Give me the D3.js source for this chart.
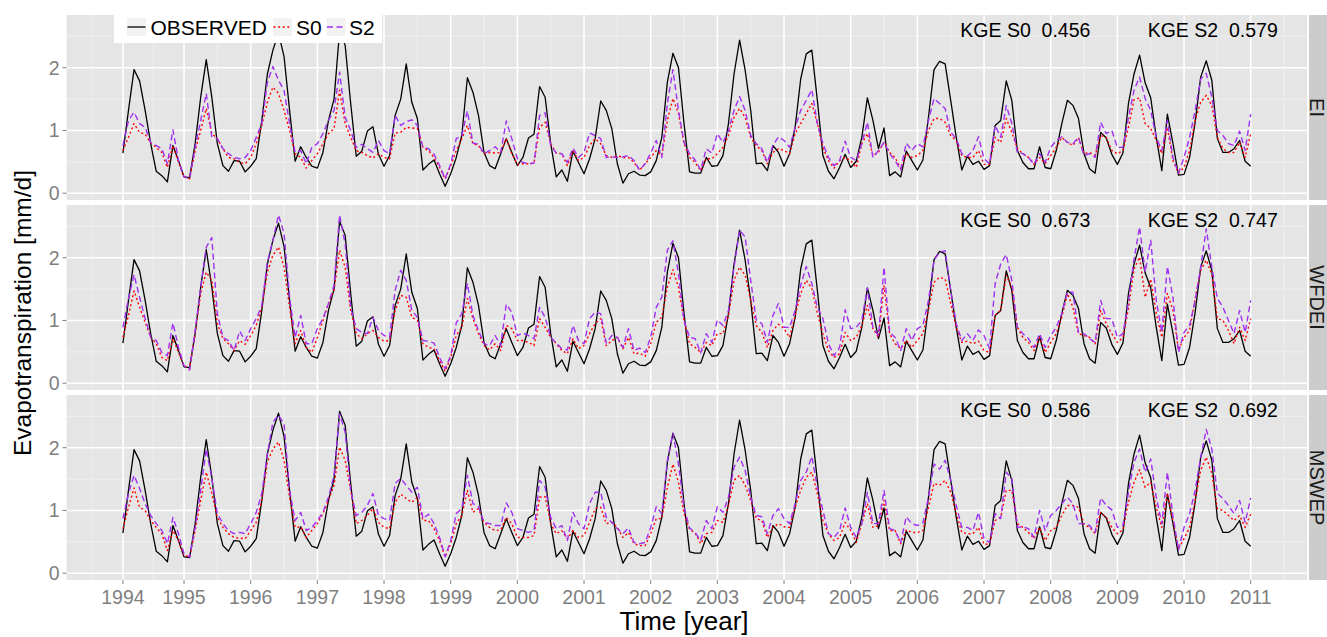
<!DOCTYPE html>
<html>
<head>
<meta charset="utf-8">
<script src="https://cdn.jsdelivr.net/npm/d3@7"></script>
<style>
  body { margin: 0; background: #fff; }
  text { font-family: "Liberation Sans", Arial, sans-serif; }
</style>
</head>
<body>
<svg id="chart" width="1327" height="637"></svg>
<script>
// ---- Data: monthly ET [mm/d], Jan 1994 .. Dec 2010 ----
const observed = [
  0.64,1.32,1.97,1.79,1.32,0.79,0.35,0.28,0.18,0.76,0.52,0.26,
  0.25,0.79,1.53,2.13,1.53,0.79,0.44,0.35,0.52,0.51,0.34,0.43,
  0.55,1.16,1.90,2.28,2.55,2.18,1.32,0.51,0.74,0.57,0.43,0.40,
  0.65,1.16,1.50,2.58,2.36,1.43,0.59,0.67,0.99,1.06,0.62,0.43,
  0.60,1.24,1.50,2.06,1.45,1.19,0.37,0.46,0.53,0.31,0.11,0.31,
  0.57,0.92,1.84,1.61,1.24,0.65,0.44,0.39,0.63,0.87,0.65,0.44,
  0.57,0.88,0.94,1.70,1.53,0.79,0.26,0.37,0.19,0.67,0.49,0.31,
  0.55,0.87,1.47,1.32,1.03,0.47,0.16,0.31,0.35,0.29,0.28,0.34,
  0.52,0.89,1.77,2.23,2.00,1.11,0.34,0.32,0.32,0.57,0.43,0.44,
  0.60,1.11,1.90,2.44,1.96,1.32,0.47,0.48,0.36,0.76,0.65,0.43,
  0.63,1.05,1.82,2.22,2.28,1.48,0.60,0.35,0.23,0.41,0.62,0.41,
  0.51,0.89,1.52,1.16,0.71,1.04,0.28,0.34,0.26,0.67,0.52,0.37,
  0.53,1.21,1.97,2.10,2.06,1.48,0.89,0.37,0.59,0.46,0.51,0.38,
  0.44,1.08,1.16,1.79,1.48,0.68,0.49,0.39,0.39,0.74,0.41,0.39,
  0.68,1.11,1.48,1.40,1.19,0.63,0.39,0.32,0.97,0.88,0.62,0.46,
  0.64,1.43,1.90,2.20,1.76,1.52,0.89,0.36,1.26,0.80,0.29,0.30,
  0.57,1.13,1.85,2.11,1.80,0.87,0.65,0.65,0.71,0.84,0.51,0.43
];

const eiS0 = [
  0.68,0.89,1.11,0.97,0.94,0.80,0.73,0.65,0.41,0.76,0.49,0.26,
  0.23,0.68,1.00,1.35,0.95,0.87,0.71,0.57,0.55,0.49,0.47,0.57,
  0.79,1.08,1.45,1.69,1.59,1.32,1.00,0.63,0.57,0.40,0.52,0.63,
  0.79,0.95,1.03,1.64,1.11,0.89,0.68,0.65,0.60,0.56,0.63,0.57,
  0.55,0.96,0.97,1.05,1.04,1.03,0.73,0.68,0.57,0.41,0.23,0.44,
  0.68,0.87,1.08,0.79,0.76,0.63,0.65,0.64,0.65,0.87,0.63,0.46,
  0.47,0.47,0.48,1.05,1.13,0.79,0.64,0.63,0.44,0.68,0.52,0.57,
  0.76,0.87,0.79,0.60,0.57,0.60,0.57,0.57,0.49,0.37,0.47,0.57,
  0.68,0.60,1.16,1.51,1.27,0.79,0.57,0.49,0.36,0.55,0.55,0.63,
  0.73,0.92,1.21,1.35,1.21,0.89,0.76,0.68,0.47,0.65,0.71,0.68,
  0.63,0.95,1.11,1.27,1.43,1.11,0.73,0.52,0.40,0.52,0.57,0.52,
  0.41,0.79,0.95,0.60,0.65,0.81,0.65,0.57,0.39,0.63,0.57,0.60,
  0.68,1.00,1.19,1.19,1.13,0.92,0.84,0.60,0.57,0.57,0.68,0.46,
  0.46,0.89,0.81,1.19,0.97,0.71,0.63,0.57,0.46,0.57,0.47,0.60,
  0.73,0.89,0.81,0.76,0.89,0.63,0.65,0.60,0.92,0.89,0.68,0.63,
  0.68,1.05,1.49,1.52,1.11,1.03,0.84,0.63,1.05,0.52,0.32,0.41,
  0.68,1.16,1.45,1.56,1.40,0.89,0.71,0.65,0.65,0.81,0.57,0.95
];

const eiS2 = [
  0.76,1.16,1.29,1.11,1.05,0.81,0.76,0.71,0.47,1.01,0.52,0.26,
  0.23,0.73,1.16,1.59,0.90,0.87,0.71,0.63,0.57,0.55,0.57,0.68,
  0.89,1.11,1.77,2.02,1.80,1.64,1.11,0.65,0.68,0.47,0.73,0.79,
  0.95,1.16,1.32,1.93,1.21,1.00,0.73,0.78,0.71,0.65,0.84,0.68,
  0.63,1.24,1.08,1.14,1.17,1.08,0.73,0.71,0.62,0.44,0.23,0.46,
  0.87,0.92,1.31,0.80,0.78,0.63,0.68,0.74,0.65,1.15,0.87,0.55,
  0.49,0.47,0.48,1.24,1.28,0.76,0.64,0.63,0.49,0.72,0.57,0.65,
  0.96,0.92,0.87,0.57,0.58,0.57,0.58,0.60,0.52,0.37,0.47,0.64,
  0.84,0.57,1.43,1.97,1.32,0.81,0.63,0.53,0.37,0.71,0.64,0.95,
  0.81,1.00,1.32,1.54,1.32,0.92,0.79,0.71,0.49,0.76,0.90,0.84,
  0.73,1.05,1.32,1.48,1.65,1.11,0.79,0.57,0.44,0.52,0.83,0.57,
  0.52,0.79,1.13,0.57,0.68,0.81,0.63,0.52,0.37,0.80,0.68,0.79,
  0.74,1.16,1.51,1.43,1.35,0.97,0.87,0.63,0.59,0.68,0.90,0.55,
  0.47,1.08,0.89,1.40,1.11,0.65,0.63,0.57,0.46,0.63,0.49,0.73,
  0.84,0.90,0.81,0.79,0.89,0.60,0.63,0.57,1.13,0.95,1.00,0.73,
  0.73,1.21,1.64,1.85,1.51,1.32,0.89,0.68,1.16,0.57,0.32,0.57,
  0.89,1.32,1.82,1.91,1.53,1.00,0.92,0.79,0.76,0.99,0.68,1.26
];

const wfdeiS0 = [
  0.73,1.08,1.47,1.21,0.97,0.73,0.63,0.41,0.36,0.71,0.49,0.28,
  0.23,0.79,1.43,1.77,1.64,0.95,0.71,0.63,0.52,0.68,0.62,0.76,
  0.92,1.21,1.77,2.04,2.17,1.85,1.21,0.63,0.84,0.57,0.49,0.73,
  1.00,1.27,1.48,2.12,1.85,1.16,0.79,0.71,0.79,0.84,0.73,0.67,
  0.68,1.16,1.40,1.37,1.05,1.00,0.63,0.57,0.55,0.36,0.19,0.41,
  0.76,0.89,1.35,1.03,0.79,0.60,0.53,0.63,0.52,0.92,0.87,0.68,
  0.68,0.65,0.60,1.03,0.89,0.73,0.63,0.52,0.47,0.71,0.55,0.60,
  0.79,0.95,1.03,0.60,0.68,0.73,0.55,0.73,0.47,0.48,0.43,0.63,
  0.97,1.05,1.53,1.81,1.53,1.00,0.63,0.57,0.49,0.65,0.60,0.79,
  0.79,1.08,1.64,1.85,1.72,1.32,0.92,0.81,0.57,0.84,0.94,0.87,
  0.73,1.08,1.43,1.64,1.51,1.11,0.79,0.52,0.41,0.47,0.81,0.68,
  0.73,0.92,1.24,0.87,0.73,1.56,0.79,0.63,0.55,0.68,0.57,0.68,
  0.79,1.16,1.61,1.69,1.66,1.27,0.89,0.65,0.67,0.63,0.67,0.52,
  0.49,1.08,1.16,1.72,1.53,0.89,0.73,0.65,0.52,0.73,0.49,0.65,
  0.79,1.05,1.43,1.21,0.79,0.76,0.73,0.63,1.16,0.95,0.79,0.65,
  0.73,1.19,1.82,2.01,1.37,1.66,1.11,0.73,1.43,1.16,0.53,0.73,
  0.84,1.35,1.80,1.96,1.74,1.03,1.00,0.84,0.63,0.89,0.68,1.03
];

const wfdeiS2 = [
  0.89,1.35,1.73,1.37,1.03,0.73,0.68,0.49,0.44,0.96,0.57,0.28,
  0.21,0.84,1.53,2.17,2.32,1.11,0.73,0.68,0.52,0.83,0.68,0.87,
  1.03,1.24,1.93,2.28,2.68,2.39,1.37,0.73,1.08,0.63,0.63,0.87,
  1.03,1.27,1.56,2.68,2.22,1.21,0.87,0.81,0.79,1.05,0.84,0.76,
  0.73,1.48,1.80,1.64,1.16,1.05,0.68,0.67,0.64,0.41,0.23,0.44,
  0.96,1.11,1.59,1.08,0.84,0.63,0.60,0.76,0.60,1.26,1.13,0.76,
  0.80,0.76,0.71,1.21,1.05,0.73,0.64,0.55,0.53,0.92,0.68,0.63,
  1.03,1.13,1.11,0.64,0.76,0.73,0.57,0.87,0.52,0.56,0.49,0.73,
  1.21,1.37,2.12,2.27,1.74,1.00,0.73,0.71,0.48,0.79,0.65,1.01,
  0.92,1.16,1.85,2.44,2.33,1.64,1.01,0.95,0.65,1.08,1.27,0.89,
  0.89,1.16,1.56,1.86,1.59,1.21,1.03,0.63,0.44,0.57,1.17,0.87,
  0.89,1.00,1.52,0.89,0.76,1.85,0.81,0.73,0.52,0.87,0.68,0.87,
  0.92,1.32,1.96,2.09,2.11,1.48,0.95,0.68,0.79,0.68,0.85,0.76,
  0.55,1.59,1.90,2.05,1.64,0.89,0.79,0.71,0.57,0.79,0.57,0.76,
  0.89,1.11,1.45,1.45,0.81,0.79,0.71,0.65,1.32,1.03,1.03,0.73,
  0.79,1.29,1.98,2.49,1.77,2.28,1.32,0.81,1.86,1.37,0.49,0.81,
  0.92,1.32,1.85,2.46,1.85,1.35,1.21,1.00,0.79,1.16,0.81,1.32
];

const mswepS0 = [
  0.71,1.05,1.36,1.05,1.00,0.84,0.73,0.63,0.36,0.68,0.52,0.28,
  0.26,0.68,1.16,1.61,1.27,0.89,0.73,0.63,0.57,0.56,0.55,0.68,
  0.81,1.16,1.77,1.98,2.09,1.80,1.21,0.73,0.74,0.57,0.68,0.79,
  0.95,1.16,1.40,2.01,1.80,1.32,0.79,0.84,0.92,1.03,0.81,0.73,
  0.71,1.13,1.26,1.19,1.13,1.21,0.84,0.84,0.71,0.52,0.26,0.47,
  0.79,0.92,1.32,0.97,1.03,0.81,0.73,0.68,0.69,0.89,0.79,0.57,
  0.57,0.57,0.60,1.21,1.22,0.79,0.63,0.68,0.55,0.68,0.57,0.60,
  0.81,1.03,1.05,0.79,0.81,0.73,0.57,0.65,0.47,0.44,0.44,0.63,
  0.87,0.87,1.37,1.74,1.45,0.95,0.70,0.64,0.47,0.63,0.65,0.84,
  0.81,1.08,1.48,1.56,1.40,1.16,0.87,0.84,0.57,0.73,0.79,0.74,
  0.73,1.05,1.32,1.53,1.61,1.27,0.84,0.63,0.52,0.57,0.81,0.68,
  0.49,0.79,1.11,0.73,0.76,1.16,0.68,0.68,0.47,0.69,0.65,0.65,
  0.68,1.05,1.43,1.40,1.48,1.29,0.95,0.65,0.63,0.63,0.73,0.46,
  0.47,0.84,0.89,1.32,1.32,0.79,0.73,0.65,0.55,0.73,0.52,0.68,
  0.73,0.92,1.08,1.08,1.05,0.78,0.73,0.63,0.97,0.89,0.73,0.63,
  0.69,1.13,1.45,1.65,1.37,1.45,1.05,0.73,1.27,0.84,0.39,0.55,
  0.73,1.16,1.64,1.85,1.59,1.03,1.00,0.92,0.84,0.92,0.73,0.94
];

const mswepS2 = [
  0.87,1.27,1.56,1.35,1.11,0.92,0.79,0.68,0.47,0.89,0.63,0.31,
  0.26,0.73,1.32,1.98,1.51,0.95,0.79,0.68,0.63,0.65,0.63,0.79,
  0.97,1.27,1.90,2.41,2.52,2.38,1.32,0.84,0.97,0.68,0.73,0.84,
  0.97,1.21,1.56,2.54,2.25,1.32,0.92,0.97,1.08,1.27,0.92,0.87,
  0.84,1.43,1.51,1.40,1.29,1.37,0.87,0.94,0.79,0.57,0.26,0.52,
  0.95,1.03,1.56,1.11,1.06,0.81,0.79,0.76,0.76,1.12,0.97,0.71,
  0.68,0.65,0.68,1.48,1.37,0.89,0.71,0.76,0.52,0.97,0.79,0.71,
  1.11,1.29,1.29,0.89,0.81,0.71,0.63,0.72,0.49,0.47,0.49,0.73,
  1.06,0.95,1.80,2.23,1.74,1.05,0.72,0.65,0.52,0.84,0.71,1.06,
  0.97,1.21,1.69,1.85,1.64,1.21,0.92,0.90,0.63,0.92,1.03,0.87,
  0.79,1.11,1.48,1.61,1.86,1.37,1.00,0.63,0.57,0.68,1.04,0.73,
  0.57,0.79,1.29,0.79,0.79,1.32,0.71,0.68,0.49,0.90,0.79,0.76,
  0.80,1.21,1.74,1.66,1.80,1.48,1.08,0.73,0.73,0.68,0.97,0.55,
  0.49,0.95,0.87,1.61,1.51,0.73,0.74,0.71,0.57,1.00,0.68,0.92,
  1.00,1.11,1.21,1.11,0.79,0.79,0.76,0.65,1.20,1.08,1.01,0.73,
  0.76,1.29,1.77,1.98,1.61,1.82,1.21,0.79,1.61,0.92,0.37,0.73,
  0.95,1.32,1.85,2.29,1.98,1.27,1.19,1.08,0.95,1.16,0.81,1.20
];

const products = ["EI", "WFDEI", "MSWEP"];
const kgeS0 = ["0.456", "0.673", "0.586"];
const kgeS2 = ["0.579", "0.747", "0.692"];
const yearTicks = d3.range(1994, 2012);
const yTicks = [0, 1, 2];
const seriesNames = ["OBSERVED", "S0", "S2"];

// ---- Layout ----
const svg = d3.select('#chart');
const panelLeft = 66.5, panelRight = 1307.1;
const panelTops = [15, 205, 395];
const panelH = 185;
const stripX = 1309, stripW = 18;
const tickFont = 19.5;

// decimal time: month m of year y sits at y + m/12
const months = observed.map((_, i) => 1994 + (i + 1) / 12);
const x = d3.scaleLinear().domain([1993.237, 2011.846]).range([panelLeft, panelRight]);

const styles = {
  OBSERVED: { color: '#000000', dash: null, width: 1.3 },
  S0: { color: '#FF0000', dash: '2,2.6', width: 1.4 },
  S2: { color: '#A030F0', dash: '6,3.5', width: 1.4 }
};

const panelSeries = [
  { S0: eiS0, S2: eiS2 },
  { S0: wfdeiS0, S2: wfdeiS2 },
  { S0: mswepS0, S2: mswepS2 }
];

// first tick sits on the first data month, the rest on whole years
const xTickPos = yearTicks.map(y => (y === 1994 ? months[0] : y));
const xMinor = [];
for (let i = 0; i < xTickPos.length - 1; i++) xMinor.push((xTickPos[i] + xTickPos[i + 1]) / 2);
xMinor.unshift(xTickPos[0] - (xTickPos[1] - xTickPos[0]) / 2);
xMinor.push(2011.5);

products.forEach((name, p) => {
  const top = panelTops[p];
  const y = d3.scaleLinear().domain([-0.108, 2.84]).range([top + panelH, top]);
  const g = svg.append('g');

  g.append('rect')
    .attr('x', panelLeft).attr('y', top)
    .attr('width', panelRight - panelLeft).attr('height', panelH)
    .attr('fill', '#E5E5E5');

  // minor grid
  g.selectAll('.hmin').data([0.5, 1.5, 2.5]).enter().append('line')
    .attr('x1', panelLeft).attr('x2', panelRight)
    .attr('y1', d => y(d)).attr('y2', d => y(d))
    .attr('stroke', '#F2F2F2').attr('stroke-width', 0.8);
  g.selectAll('.vmin').data(xMinor.filter(d => x(d) > panelLeft && x(d) < panelRight)).enter().append('line')
    .attr('y1', top).attr('y2', top + panelH)
    .attr('x1', d => x(d)).attr('x2', d => x(d))
    .attr('stroke', '#F2F2F2').attr('stroke-width', 0.8);

  // major grid
  g.selectAll('.hmaj').data(yTicks).enter().append('line')
    .attr('x1', panelLeft).attr('x2', panelRight)
    .attr('y1', d => y(d)).attr('y2', d => y(d))
    .attr('stroke', '#FFFFFF').attr('stroke-width', 1.6);
  g.selectAll('.vmaj').data(xTickPos).enter().append('line')
    .attr('y1', top).attr('y2', top + panelH)
    .attr('x1', d => x(d)).attr('x2', d => x(d))
    .attr('stroke', '#FFFFFF').attr('stroke-width', 1.6);

  // clip
  const clipId = 'clip' + p;
  svg.append('clipPath').attr('id', clipId).append('rect')
    .attr('x', panelLeft).attr('y', top)
    .attr('width', panelRight - panelLeft).attr('height', panelH);

  const line = d3.line().x((d, i) => x(months[i])).y(d => y(d));
  const lines = g.append('g').attr('clip-path', `url(#${clipId})`);
  [['OBSERVED', observed], ['S0', panelSeries[p].S0], ['S2', panelSeries[p].S2]].forEach(([key, vals]) => {
    const st = styles[key];
    lines.append('path')
      .datum(vals)
      .attr('d', line)
      .attr('fill', 'none')
      .attr('stroke', st.color)
      .attr('stroke-width', st.width)
      .attr('stroke-dasharray', st.dash)
      .attr('stroke-linejoin', 'round');
  });

  // y axis
  const yAxis = g.append('g');
  yTicks.forEach(t => {
    yAxis.append('line')
      .attr('x1', panelLeft - 4).attr('x2', panelLeft)
      .attr('y1', y(t)).attr('y2', y(t))
      .attr('stroke', '#7F7F7F').attr('stroke-width', 1);
    yAxis.append('text')
      .attr('x', panelLeft - 7).attr('y', y(t))
      .attr('text-anchor', 'end').attr('dominant-baseline', 'central')
      .attr('font-size', tickFont).attr('fill', '#7F7F7F')
      .text(t);
  });

  // KGE annotations
  g.append('text')
    .attr('x', x(2007.62)).attr('y', y(2.6))
    .attr('text-anchor', 'middle').attr('dominant-baseline', 'central')
    .attr('font-size', 19.5).attr('fill', '#000')
    .attr('xml:space', 'preserve')
    .text('KGE S0  ' + kgeS0[p]);
  g.append('text')
    .attr('x', x(2010.43)).attr('y', y(2.6))
    .attr('text-anchor', 'middle').attr('dominant-baseline', 'central')
    .attr('font-size', 19.5).attr('fill', '#000')
    .attr('xml:space', 'preserve')
    .text('KGE S2  ' + kgeS2[p]);

  // strip
  g.append('rect')
    .attr('x', stripX).attr('y', top)
    .attr('width', stripW).attr('height', panelH)
    .attr('fill', '#CCCCCC');
  g.append('text')
    .attr('transform', `translate(${stripX + stripW / 2 - 1},${top + panelH / 2}) rotate(90)`)
    .attr('text-anchor', 'middle').attr('dominant-baseline', 'central')
    .attr('font-size', 20).attr('fill', '#1A1A1A')
    .text(name);
});

// ---- x axis ----
const axisY = panelTops[2] + panelH;
const xAxis = svg.append('g');
xTickPos.forEach((t, i) => {
  xAxis.append('line')
    .attr('x1', x(t)).attr('x2', x(t))
    .attr('y1', axisY).attr('y2', axisY + 4)
    .attr('stroke', '#7F7F7F').attr('stroke-width', 1);
  xAxis.append('text')
    .attr('x', x(t)).attr('y', axisY + 24)
    .attr('text-anchor', 'middle')
    .attr('font-size', tickFont).attr('fill', '#7F7F7F')
    .text(yearTicks[i]);
});

svg.append('text')
  .attr('x', 684).attr('y', 630)
  .attr('text-anchor', 'middle')
  .attr('font-size', 26).attr('fill', '#000')
  .text('Time [year]');

svg.append('text')
  .attr('transform', `translate(31,313) rotate(-90)`)
  .attr('text-anchor', 'middle')
  .attr('font-size', 24.5).attr('fill', '#000')
  .text('Evapotranspiration [mm/d]');

// ---- legend ----
const legend = svg.append('g');
legend.append('rect')
  .attr('x', 114).attr('y', 12).attr('width', 268).attr('height', 31)
  .attr('fill', '#FFFFFF');
const keyX = [126.5, 272.5, 326];
const labelX = [150.5, 296, 349];
seriesNames.forEach((s, i) => {
  const st = styles[s];
  legend.append('rect')
    .attr('x', keyX[i]).attr('y', 17.5).attr('width', 20).attr('height', 19)
    .attr('fill', '#F2F2F2').attr('stroke', '#FFFFFF');
  legend.append('line')
    .attr('x1', keyX[i] + 1).attr('x2', keyX[i] + 19)
    .attr('y1', 27).attr('y2', 27)
    .attr('stroke', st.color).attr('stroke-width', st.width)
    .attr('stroke-dasharray', st.dash);
  legend.append('text')
    .attr('x', labelX[i]).attr('y', 27)
    .attr('dominant-baseline', 'central')
    .attr('font-size', 21).attr('fill', '#000')
    .text(s);
});
</script>
</body>
</html>
